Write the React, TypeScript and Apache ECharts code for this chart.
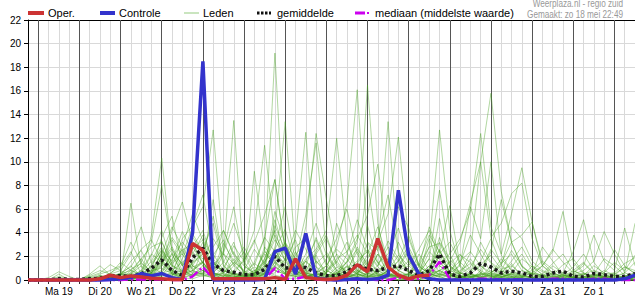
import React, { useEffect, useRef } from "react";
import * as echarts from "echarts";

// time axis: hours after Sun 18 May 00:00, one value every 6 hours
const START_HOUR = 18;
const STEP_HOURS = 6;
const END_HOUR = 372;

const dayLabels = ["Ma 19", "Di 20", "Wo 21", "Do 22", "Vr 23", "Za 24", "Zo 25", "Ma 26", "Di 27", "Wo 28", "Do 29", "Vr 30", "Za 31", "Zo 1"];
const dayStarts = [24, 48, 72, 96, 120, 144, 168, 192, 216, 240, 264, 288, 312, 336, 360];

const yMin = 0;
const yMax = 22;
const yStep = 2;

const oper = [0,
  0, 0, 0, 0, 0, 0, 0.1, 0.4, 0.2, 0.35, 0.25, 0.15, 0.1, 0.05, 0.05, 3.1,
  2.5, 0.1, 0.1, 0.1, 0.1, 0.1, 0.1, 0.2, 0.05, 1.8, 0.2, 0.1, 0.05, 0.1, 0.4, 1.3,
  0.7, 3.5, 1.1, 0.4, 0.1, 0.35, 0.4];

const controle = [0,
  0, 0, 0, 0, 0, 0, 0, 0.05, 0.1, 0.2, 0.55, 0.35, 0.55, 0.2, 0.05, 4.0,
  18.5, 0, 0, 0, 0, 0, 0.05, 2.4, 2.7, 0.5, 3.95, 0.15, 0.05, 0, 0.05, 0.1,
  0.05, 0.1, 0.4, 7.6, 2.1, 0.5, 0.1, 0, 0, 0, 0, 0, 0, 0, 0, 0,
  0, 0, 0, 0, 0, 0, 0, 0, 0, 0.1, 0.4];

const gemiddelde = [0,
  0, 0.02, 0.1, 0.05, 0.05, 0.1, 0.15, 0.35, 0.35, 0.3, 0.5, 1.0, 1.7, 0.8, 0.4, 1.9,
  2.7, 1.35, 0.8, 0.65, 0.45, 0.45, 0.9, 2.0, 1.0, 1.1, 1.05, 0.6, 0.35, 0.35, 0.7, 1.3,
  0.9, 0.8, 1.05, 1.2, 0.8, 0.4, 0.8, 2.2, 0.5, 0.3, 0.6, 1.4, 1.1, 0.6, 0.75, 0.6,
  0.3, 0.3, 0.6, 0.75, 0.3, 0.25, 0.55, 0.45, 0.3, 0.3, 0.55];

const mediaan = [0,
  0, 0, 0, 0, 0, 0, 0, 0, 0, 0.05, 0.05, 0.05, 0.05, 0, 0, 0.3,
  1.1, 0.1, 0, 0, 0, 0, 0.1, 1.0, 0.1, 0.1, 0.3, 0.05, 0, 0, 0, 0.05,
  0.05, 0, 0, 0.2, 0.05, 0.1, 0.4, 1.55, 0.1, 0, 0.05, 0.1, 0.1, 0.05, 0.05, 0.05,
  0, 0, 0.1, 0.1, 0, 0, 0.1, 0.1, 0, 0, 0];

const lid01 = [0, 0,0,0,0, 0,0,0.2,0, 0.5,1.2,0.3,0, 2.1,0.8,0.4,1.5, 3.2,0.6,0,0, 0,0.4,2.5,19.2, 3.1,0.5,0,0, 0,0.8,0.2,1.4, 2.6,0.3,0,0, 0,0.5,0.2,0, 0,0,0.6,0.2, 0,0,0.3,0, 0,0,0,0.4, 0.2,0,0,0, 0,0.3,0];
const lid02 = [0, 0,0,0.5,0, 0,0.3,0,0.6, 1.1,2.4,0.5,3.8, 10.3,2.2,0.5,0.8, 1.5,0.3,0,0.2, 0.6,0,1.8,4.2, 13.4,2.3,0.5,0, 0,0,0.6,2.8, 1.2,0.4,0.3,0, 0,0,0.2,1.6, 0.5,0,0,0, 0,0.8,0.3,0, 0,0.2,0.5,0, 0,0,0,0.3, 0,0,0];
const lid03 = [0, 0,0,0,0, 0,0,0.4,0, 0,0.6,1.8,0.5, 1.2,3.4,2.1,4.5, 6.2,12.7,2.3,0.4, 0,0,0.5,1.1, 0.6,2.4,0.8,0, 0.3,0.5,1.5,3.2, 16.5,4.8,0.6,0.2, 0,0.4,1.2,2.5, 0.6,0,0,0.8, 0.3,0,0,0.2, 0,0,0,0.6, 0.4,0,0.2,0, 0,0,0.5];
const lid04 = [0, 0,0,0,0, 0,0,0,0.3, 0.2,0.4,0.2,1.3, 2.5,1.6,4.1,2.3, 1.8,3.5,2.1,13.5, 1.2,0.5,0.3,2.2, 1.4,3.6,12.5,1.1, 0,0.2,0.5,0, 0.6,2.2,0.5,0, 0,0,0.8,3.6, 1.2,0.4,0,0, 0,0.6,1.4,0.2, 0,0,0,0, 0.8,0.3,0,0, 0,0.4,0.2];
const lid05 = [0, 0,0,0,0, 0,0,0,0, 0.5,0.3,0.8,2.2, 1.5,0.6,2.8,5.6, 3.3,1.2,0.8,0.5, 0.2,0.8,1.5,3.4, 2.1,0.6,4.5,12.4, 6.8,2.1,0.4,0, 0.3,0.2,0.8,1.1, 2.4,0.5,1.8,7.6, 2.2,0.4,0,0, 0,0.3,0.5,0, 0,0,0.3,0, 0,0,0.4,0.2, 0,0,0];
const lid06 = [0, 0,0,0,0, 0,0.2,0,0, 0,0.8,0.5,0.2, 0.6,2.3,1.4,0.5, 2.6,4.8,1.2,0.3, 0,0.3,2.8,1.6, 0.8,0.5,1.8,2.6, 4.2,12.0,3.5,0.5, 0.2,0.6,1.4,0.3, 0,0,0,0.4, 1.6,3.2,6.5,10.0, 15.8,7.5,3.2,1.2, 0.4,0,0,0, 0,0.2,0,0, 0,0,0];
const lid07 = [0, 0,0,0,0, 0,0,0,0, 0,0,0.4,0.6, 1.8,0.5,0.2,1.4, 2.2,0.6,1.5,3.2, 0.4,0,0.6,2.1, 1.1,0.5,0.2,0.6, 1.2,2.8,6.5,16.1, 3.2,2.5,13.4,2.2, 0.6,0,0.5,0.3, 0,0,0.2,0.6, 0.3,0,0,0.8, 0.5,0.2,0,0, 0,0,0.3,0.5, 0,0,0];
const lid08 = [0, 0,0,0,0, 0,0,0.3,0.2, 0.6,0.2,0,0, 0.4,1.5,2.6,0.8, 0.5,1.2,2.3,4.8, 2.2,0.4,0.3,1.2, 2.8,0.6,0.5,2.1, 0.4,0.2,1.2,0.5, 1.8,3.2,5.6,12.1, 3.5,1.2,2.8,12.7, 4.2,1.1,0.3,0, 0,0.5,0.2,0, 0,0,0,0.5, 0,0,0,0.2, 0.4,0,0];
const lid09 = [0, 0,0,0,0, 0,0,0.2,0, 0,0.5,1.2,0.6, 2.3,0.8,0.3,1.1, 1.5,0.4,0.6,1.8, 0.6,0.2,1.1,4.6, 2.5,0.8,0.3,0.5, 1.2,0.4,0.8,2.4, 1.1,0.6,0.3,0.5, 0.2,0,0.6,1.4, 2.2,3.5,5.8,12.4, 4.5,2.2,5.6,9.5, 4.9,1.2,0.4,0, 0,0,0.5,0.2, 0,0,0];
const lid10 = [0, 0,0,0,0, 0,0,0,0, 0.3,0.2,0.6,2.1, 4.2,1.3,0.6,0.4, 0.8,2.1,3.4,1.2, 0.5,1.4,0.8,2.6, 4.3,1.2,0.5,0.2, 0.6,1.5,3.2,0.8, 0.4,2.2,1.1,0.5, 0.2,0.3,0.5,0.8, 1.2,0.6,2.3,10.0, 3.6,4.8,7.3,8.2, 3.5,1.2,2.4,5.8, 1.5,0.5,0.2,0, 0,0.3,0.6];
const lid11 = [0, 0,0,0,0, 0,0,0,0.2, 0.4,1.6,2.5,0.8, 3.6,5.4,1.2,2.8, 1.4,0.6,0.3,0.8, 1.6,3.2,5.5,8.5, 2.6,1.1,0.4,0.2, 0.5,0.3,0.6,1.2, 8.2,2.4,0.5,0.2, 0,0.4,0.8,2.6, 0.6,1.2,6.2,3.5, 10.0,2.1,0.8,0.3, 0.2,0,0,0.4, 0.2,0,0,0.3, 0.6,0,0];
const lid12 = [0, 0,0,0,0, 0,0,0,0, 0,0.2,0.5,1.1, 0.6,0.3,1.8,3.9, 2.4,1.1,0.5,0.2, 0.4,0.6,1.2,0.8, 0.5,2.1,3.3,1.6, 0.8,0.4,2.2,5.1, 2.6,1.5,0.4,0.2, 0.6,1.1,4.5,2.3, 6.3,1.2,0.5,0.3, 0,0.4,1.1,2.2, 0.8,0.3,1.2,0.6, 2.4,5.1,1.5,0.4, 0.2,0.6,0.3];
const lid13 = [0, 0,0,0,0, 0,0,0.2,0.5, 0.8,0.3,0.2,0.5, 1.4,2.6,0.8,0.4, 1.2,0.5,2.2,1.4, 0.3,0.5,1.6,2.5, 1.2,0.5,0.8,2.2, 3.5,1.4,0.6,0.3, 0.5,1.2,2.8,1.6, 0.8,0.4,0.3,1.2, 0.6,2.1,1.5,0.8, 2.6,1.4,3.2,3.8, 4.9,1.5,0.6,0.3, 0.5,0.8,1.6,4.1, 2.2,0.6,4.8];
const lid14 = [0, 0,0,0,0, 0,0,0,0, 0,0,0.3,0.8, 2.2,4.5,2.8,1.2, 0.5,0.3,0.6,1.5, 0.8,0.2,0.5,1.8, 3.2,0.6,0.3,0.5, 0.2,1.1,0.6,0.4, 1.2,0.5,0.3,0.8, 1.6,0.5,0.2,0.5, 0.3,0.8,1.4,0.6, 0.5,1.8,0.8,0.4, 0.6,1.2,2.6,1.5, 0.6,1.2,3.8,1.6, 0.8,4.4,1.2];
const lid15 = [0, 0,0.2,0.7,0.3, 0,0.5,1.2,0.4, 0.3,6.5,1.1,0.5, 0.8,2.2,0.6,0.3, 0.5,1.6,4.2,2.1, 0.6,0.3,0.2,1.5, 0.8,0.4,1.2,3.6, 1.4,0.5,0.2,0.6, 1.5,0.8,0.3,0.2, 0.5,1.4,0.6,0.3, 0,0.2,0.5,1.2, 0.4,0.2,0,0.3, 0.6,0.4,0,0, 0.3,0.5,0.8,0.2, 0,0,0.3];
const lid16 = [0, 0,0,0,0, 0,0,0,0, 0.2,0.5,1.5,3.2, 8.0,2.6,1.2,0.6, 0.8,0.4,0.2,0.5, 1.8,4.2,11.4,3.5, 1.6,0.5,0.3,0.2, 0.6,2.2,1.3,0.5, 0.2,0.4,0.6,1.6, 3.8,1.2,0.5,0.2, 0,0.3,0.5,0.2, 1.2,0.5,0.2,0, 0,0.3,0.6,0.2, 0,0,0.4,0.2, 0,0.3,0];
const lid17 = [0, 0,0,0,0, 0,0,0.2,0, 0,0.3,0.2,0.6, 1.5,0.6,2.5,3.1, 1.4,6.8,1.2,0.5, 0.3,9.2,2.5,1.1, 0.5,0.2,1.6,0.8, 0.4,0.6,0.3,0.2, 4.6,1.5,0.6,0.3, 0.5,0.2,0.3,0.8, 1.5,0.6,0.2,0.4, 0.8,0.3,0.5,0.2, 0,0,0.2,0.5, 0.2,0,0,0, 0.4,0.2,0];
const lid18 = [0, 0,0,0,0, 0,0,0,0.3, 0.5,0.8,0.4,1.2, 2.6,1.1,3.5,4.6, 7.2,2.2,0.8,0.4, 0.2,0.6,0.4,2.8, 6.2,1.5,0.6,0.3, 0.8,0.4,1.6,3.5, 5.5,9.8,2.6,0.8, 0.4,0.2,0.5,0.3, 0.8,0.5,1.8,0.6, 0.3,0.5,0,0, 0,0.2,0,0, 0,0,0,0.3, 0,0,0];
const lid19 = [0, 0,0,0,0, 0,0,0,0, 0,0.2,0.8,0.4, 0.6,1.8,3.2,2.1, 1.2,0.8,2.5,6.2, 1.5,0.4,0.8,5.1, 2.2,1.6,5.5,11.6, 2.4,0.8,0.5,1.2, 0.6,0.3,0.8,3.2, 1.4,0.6,0.4,5.2, 1.1,0.3,0,0.2, 0.6,0.3,0,0, 0.2,0,0,0, 0,0.3,0,0, 0,0,0.2];
const lid20 = [0, 0,0,0,0, 0,0,0,0, 0,0.4,0.6,1.6, 3.3,1.2,0.5,0.8, 0.4,0.2,1.1,2.4, 0.6,1.5,3.6,8.5, 2.4,0.8,0.3,0.6, 1.8,3.5,6.0,2.2, 0.8,0.4,0.2,1.2, 2.6,0.6,0.3,0.8, 0.4,0.2,0.6,3.2, 1.5,0.8,0.4,0.2, 0.6,0.4,0,0, 0.2,0.3,0.5,1.8, 1.2,0.4,0.2];
const lid21 = [0, 0,0,0.2,0, 0,0.3,0.6,1.3, 0.8,2.2,4.5,1.4, 2.8,0.6,0.3,1.5, 2.2,5.4,1.6,0.6, 0.3,0.5,1.8,4.2, 1.5,3.4,0.8,0.3, 0.2,0.6,0.4,0.2, 1.1,3.6,7.2,2.4, 0.6,0.3,0.2,0.5, 0.3,0.6,0.3,0.2, 0,0.2,0.6,0.4, 0.2,0,0,0.3, 0,0,0,0, 0,0.2,0.4];
const lid22 = [0, 0,0,0,0, 0,0,0,0, 0.2,0.3,0.6,0.3, 1.2,4.2,6.6,3.1, 1.4,0.6,0.3,1.2, 2.4,0.8,0.4,0.6, 1.8,0.5,2.2,4.8, 2.1,0.6,1.2,0.5, 0.3,0.8,1.5,6.2, 4.4,1.2,0.5,2.1, 0.6,0.3,0.2,0.5, 2.4,6.8,3.2,1.1, 0.5,0.3,0,0, 0,0.2,0.5,0.3, 0,0,0.2];
const lid23 = [0, 0,0,0,0, 0,0,0,0, 0,0.2,0.3,0.5, 0.6,0.8,1.5,2.2, 3.8,1.6,0.5,0.3, 0.2,0.4,1.2,5.8, 3.1,1.2,0.6,0.4, 0.8,1.6,0.5,0.3, 2.2,1.1,0.4,0.6, 0.3,2.2,0.8,0.5, 0.2,1.4,3.8,2.2, 0.6,1.2,4.5,3.5, 1.6,0.8,0.5,0.3, 0.6,1.4,0.5,0.2, 0.3,0.6,1.5];
const lid24 = [0, 0,0,0,0, 0,0,0,0, 0,0,0.2,0.3, 0.4,0.6,0.3,0.8, 1.5,0.6,0.4,0.2, 0.5,1.1,0.6,2.6, 0.8,0.3,1.6,0.5, 0.6,4.8,2.3,0.8, 0.4,0.2,0.5,0.3, 0.2,0.4,3.5,1.2, 0.6,0.3,0.5,0.2, 0.4,0.8,2.5,1.2, 0.5,2.8,1.6,0.4, 0.2,0.5,0.3,0.6, 2.6,1.2,0.5];
const lid25 = [0, 0,0,0,0, 0,0,0.2,0.3, 0.5,0.2,0.4,0.6, 1.3,0.5,0.8,0.4, 0.6,1.4,0.8,0.5, 0.3,0.6,2.2,1.4, 0.6,0.8,0.4,1.6, 0.5,0.3,0.2,0.6, 1.2,0.5,0.3,0.4, 0.2,0.6,1.8,0.7, 0.4,0.2,0.3,0.5, 0.2,0.6,0.3,0.2, 1.2,0.4,0.3,0.2, 0.5,0.3,0.2,0.4, 0.2,0.3,0.6];
const lid26 = [0, 0,0,0,0, 0,0,0,0, 0,0,0,0.2, 0.3,0.5,0.2,0.1, 0.4,0.2,0.1,0, 0.2,0.4,0.6,0.3, 0.2,0.1,0.3,0.2, 0,0.1,0.2,0.5, 0.3,0.2,0.1,0, 0.1,0.3,1.2,0.4, 0.2,0.1,0,0.2, 0.5,0.3,0.1,0, 0,0,0.2,0.1, 0,0.1,0.2,0.1, 0,0,0.2];
const lid27 = [0, 0,0,0,0, 0,0,0,0, 0.2,0.4,0.2,0.6, 1.6,0.8,0.4,2.8, 4.2,1.5,0.6,0.3, 0.2,0.5,1.4,0.8, 0.5,1.2,0.6,0.3, 0.2,0.5,1.1,0.4, 0.6,0.3,0.8,2.1, 1.2,0.5,0.8,3.2, 1.8,0.6,0.3,0.2, 0.4,0.2,0.5,0.3, 0.2,0,0.4,0.2, 0.3,0.6,0.2,0, 0,0,0.1];
const lid28 = [0, 0,0,0,0, 0,0,0,0.2, 0.3,0.6,0.3,0.2, 0.5,0.4,0.6,1.2, 0.8,0.5,0.3,0.6, 0.4,0.8,0.5,1.5, 0.6,0.3,0.2,0.5, 0.4,0.2,0.4,0.8, 0.3,0.6,1.8,0.8, 0.3,0.5,2.4,1.5, 0.5,0.3,0.2,0.4, 0.6,0.3,0.2,0.4, 0.2,0.5,0.3,0.1, 0.2,0.1,0.3,0.2, 0.4,0.2,0];
const lid29 = [0, 0,0,0,0, 0,0,0,0, 0,0.1,0.2,0.4, 0.6,0.3,0.2,0.5, 0.3,0.6,0.4,0.2, 0.1,0.3,0.8,0.4, 0.2,0.5,0.3,0.2, 0.1,0.3,0.6,1.2, 0.5,0.2,0.1,0.3, 0.2,0.8,0.4,0.6, 0.3,0.2,0.4,0.3, 0.2,0.5,0.3,0.1, 0.2,0.3,0.1,0, 0.1,0.3,0.2,0.1, 0,0.2,0.3];
const lid30 = [0, 0,0,0,0, 0,0,0.4,0.2, 0.2,0.1,0.3,0.8, 1.0,0.5,0.2,0.4, 0.6,0.3,0.2,0.5, 0.3,0.2,0.6,1.2, 0.5,0.3,0.2,0.6, 0.3,0.2,0.5,0.3, 0.2,0.8,0.4,0.3, 0.5,0.2,0.6,0.8, 0.4,0.2,0.3,0.5, 0.3,0.2,0.6,0.3, 0.2,0.4,0.2,0.1, 0.3,0.2,0.1,0.2, 0.1,0.3,0.2];
const lid31 = [0, 0,0,0,0, 0,0.2,0.5,0.8, 1.2,3.2,1.5,0.6, 2.4,1.2,0.8,2.6, 3.4,1.8,0.6,1.4, 2.8,1.2,3.6,2.4, 1.8,4.2,2.6,1.1, 0.6,1.8,2.4,3.8, 2.2,4.5,1.6,0.8, 1.2,2.6,4.2,1.8, 0.8,1.6,2.4,1.2, 0.6,1.4,2.2,0.8, 0.4,1.2,0.6,0.3, 0.8,1.5,0.6,0.3, 0.5,1.1,0.8];
const lid32 = [0, 0,0,0,0, 0,0,0.3,0.2, 0.6,1.1,2.6,3.4, 1.6,2.8,1.2,3.6, 2.4,0.8,3.1,1.6, 0.8,2.6,1.4,3.8, 2.2,0.8,1.6,3.4, 1.2,2.6,1.8,0.6, 3.2,1.4,2.2,4.4, 1.6,0.8,2.8,3.1, 1.4,2.2,0.8,1.6, 3.5,1.2,0.6,1.8, 1.1,0.5,1.4,2.2, 0.8,0.4,1.2,0.6, 1.5,0.8,2.1];
const lid33 = [0, 0,0,0.3,0.1, 0,0.4,0.8,0.5, 1.5,0.8,1.8,2.8, 3.2,1.4,2.2,0.9, 1.6,2.8,4.2,2.2, 1.2,0.6,2.4,1.5, 3.2,1.8,0.7,2.4, 3.8,1.2,0.8,1.6, 2.4,1.2,3.3,1.8, 0.6,1.5,3.8,2.4, 1.2,0.5,1.1,2.6, 1.4,0.6,1.6,2.8, 1.2,0.7,0.4,1.3, 1.8,0.6,0.3,0.8, 0.4,1.1,0.6];
const lid34 = [0, 0,0,0,0, 0,0,0,0.2, 0.4,0.9,1.4,0.7, 1.8,3.6,2.4,1.2, 2.6,1.4,0.8,2.9, 1.6,3.4,1.1,2.1, 0.9,2.8,3.5,1.4, 2.2,0.8,1.5,2.6, 1.4,2.9,0.9,1.6, 2.8,1.1,0.6,2.2, 3.2,1.5,0.7,1.3, 2.1,0.9,1.2,0.5, 0.8,1.6,0.9,0.4, 1.1,2.2,0.8,0.5, 0.6,1.4,1.9];

const leden = [lid01, lid02, lid03, lid04, lid05, lid06, lid07, lid08, lid09, lid10,
  lid11, lid12, lid13, lid14, lid15, lid16, lid17, lid18, lid19, lid20,
  lid21, lid22, lid23, lid24, lid25, lid26, lid27, lid28, lid29, lid30,
  lid31, lid32, lid33, lid34];

const FONT = "'Liberation Sans', Arial, sans-serif";
const RED = "#cc3333";
const BLUE = "#3333cc";
const MAGENTA = "#cc00ee";
const MEMBER = "rgba(70,160,30,0.42)";

const toPoints = (vals: number[]) => vals.map((v, i) => [START_HOUR + STEP_HOURS * i, v]);

export default function App() {
  const ref = useRef<HTMLDivElement>(null);
  useEffect(() => {
    if (!ref.current) return;
    const chart = echarts.init(ref.current, null, { renderer: "svg" });

    const memberSeries = leden.map((m) => ({
      type: "line",
      name: "Leden",
      data: toPoints(m),
      symbol: "none",
      silent: true,
      z: 2,
      lineStyle: { color: MEMBER, width: 1 },
      emphasis: { disabled: true },
    }));

    const legendItems: any[] = [
      { type: "line", shape: { x1: 28, y1: 13, x2: 44, y2: 13 }, style: { stroke: RED, lineWidth: 4 } },
      { type: "text", x: 48, y: 13, style: { text: "Oper.", font: `11px ${FONT}`, fill: "#000", verticalAlign: "middle" } },
      { type: "line", shape: { x1: 100, y1: 13, x2: 115, y2: 13 }, style: { stroke: BLUE, lineWidth: 4 } },
      { type: "text", x: 119, y: 13, style: { text: "Controle", font: `11px ${FONT}`, fill: "#000", verticalAlign: "middle" } },
      { type: "line", shape: { x1: 184, y1: 13, x2: 199, y2: 13 }, style: { stroke: "#b8dcaa", lineWidth: 1.5 } },
      { type: "text", x: 203, y: 13, style: { text: "Leden", font: `11px ${FONT}`, fill: "#000", verticalAlign: "middle" } },
      { type: "line", shape: { x1: 257, y1: 13, x2: 271, y2: 13 }, style: { stroke: "#111", lineWidth: 3, lineDash: [2.5, 1.5] } },
      { type: "text", x: 277, y: 13, style: { text: "gemiddelde", font: `11px ${FONT}`, fill: "#000", verticalAlign: "middle" } },
      { type: "line", shape: { x1: 355, y1: 13, x2: 365, y2: 13 }, style: { stroke: MAGENTA, lineWidth: 3 } },
      { type: "rect", shape: { x: 367, y: 12, width: 2, height: 2 }, style: { fill: MAGENTA } },
      { type: "text", x: 375, y: 13, style: { text: "mediaan (middelste waarde)", font: `11px ${FONT}`, fill: "#000", verticalAlign: "middle" } },
      { type: "text", x: 623, y: 4, scaleX: 0.82, style: { text: "Weerplaza.nl - regio zuid", font: `10px ${FONT}`, fill: "#999", align: "right", verticalAlign: "middle" } },
      { type: "text", x: 623, y: 15, scaleX: 0.82, style: { text: "Gemaakt: zo 18 mei 22:49", font: `10px ${FONT}`, fill: "#999", align: "right", verticalAlign: "middle" } },
    ];

    chart.setOption({
      animation: false,
      backgroundColor: "#fff",
      textStyle: { fontFamily: FONT },
      grid: { left: 28, right: 0, top: 20, bottom: 20, containLabel: false },
      xAxis: [
        {
          type: "value",
          min: START_HOUR,
          max: END_HOUR,
          interval: STEP_HOURS,
          axisLine: { show: true, lineStyle: { color: "#000", width: 1 } },
          axisTick: { show: true, length: 4, lineStyle: { color: "#333" } },
          axisLabel: {
            show: true,
            margin: 6,
            fontSize: 10,
            color: "#000",
            fontFamily: FONT,
            showMinLabel: true,
            showMaxLabel: false,
            formatter: (v: number) => {
              const k = (v - 36) / 24;
              return Number.isInteger(k) && k >= 0 && k < dayLabels.length ? dayLabels[k] : "";
            },
          },
          splitLine: { show: true, lineStyle: { color: "#d9d9d9", width: 1 } },
        },
        {
          type: "value",
          position: "top",
          min: START_HOUR,
          max: END_HOUR,
          interval: STEP_HOURS,
          axisLine: { show: true, lineStyle: { color: "#000", width: 1 } },
          axisTick: { show: false },
          axisLabel: { show: false },
          splitLine: { show: false },
        },
      ],
      yAxis: {
        type: "value",
        min: yMin,
        max: yMax,
        interval: yStep,
        axisLine: { show: true, lineStyle: { color: "#000", width: 1 } },
        axisTick: { show: true, length: 4, lineStyle: { color: "#000" } },
        axisLabel: { margin: 7, fontSize: 10, color: "#000", fontFamily: FONT },
        splitLine: { show: true, lineStyle: { color: "#d9d9d9", width: 1 } },
      },
      graphic: legendItems,
      series: [
        {
          type: "line",
          name: "dagen",
          data: [],
          silent: true,
          z: 1,
          markLine: {
            silent: true,
            symbol: "none",
            z: 1,
            label: { show: false },
            lineStyle: { color: "#555", width: 1, type: "solid" },
            emphasis: { disabled: true },
            data: dayStarts.map((d) => ({ xAxis: d })),
          },
        },
        ...memberSeries,
        {
          type: "line",
          name: "mediaan",
          data: toPoints(mediaan),
          symbol: "none",
          silent: true,
          clip: false,
          z: 3,
          lineStyle: { color: MAGENTA, width: 2.5, type: [10, 3, 2, 3] },
        },
        {
          type: "line",
          name: "gemiddelde",
          data: toPoints(gemiddelde),
          symbol: "none",
          silent: true,
          clip: false,
          z: 4,
          lineStyle: { color: "#1a1a1a", width: 3.5, type: [3, 3], cap: "butt" },
        },
        {
          type: "line",
          name: "Controle",
          data: toPoints(controle),
          symbol: "none",
          silent: true,
          clip: false,
          z: 5,
          lineStyle: { color: BLUE, width: 3.5 },
        },
        {
          type: "line",
          name: "Oper.",
          data: toPoints(oper),
          symbol: "none",
          silent: true,
          clip: false,
          z: 6,
          lineStyle: { color: RED, width: 3.5 },
        },
      ],
    });
    return () => chart.dispose();
  }, []);

  return (
    <div
      ref={ref}
      style={{ position: "absolute", left: 0, top: 0, width: 635, height: 300, background: "#fff" }}
    />
  );
}
